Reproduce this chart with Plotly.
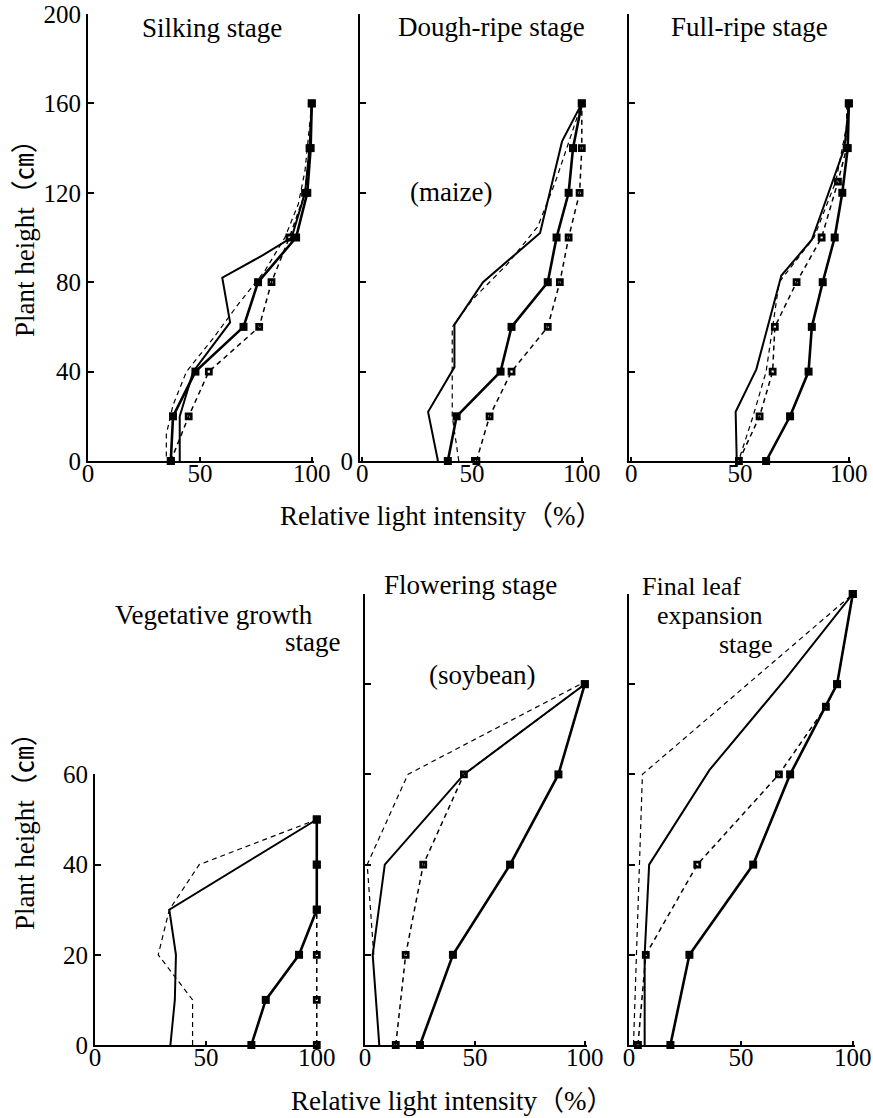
import plotly.graph_objects as go

# ---------------- data (plant height cm, relative light intensity %) ----------------
# Panel 1: maize, silking stage
p1_a_h = [0, 20, 40, 60, 80, 100, 120, 140, 160]
p1_a_v = [37, 38, 48, 69.5, 76, 93, 98, 99.5, 100]
p1_b_h = [0, 20, 40, 62, 82, 92, 100, 120, 140, 160]
p1_b_v = [41, 41, 47, 63.5, 60, 78, 91, 97, 99, 100]
p1_c_h = [0, 20, 40, 60, 80, 100, 120, 140, 160]
p1_c_v = [37, 45, 54, 76.5, 82, 90, 97, 99, 100]
p1_d_h = [2, 12, 25, 40, 55, 70, 85, 100, 115, 130, 160]
p1_d_v = [35, 35, 38, 44, 56, 67, 79, 88, 94, 97, 100]

# Panel 2: maize, dough-ripe stage
p2_a_h = [0, 20, 40, 60, 80, 100, 120, 140, 160]
p2_a_v = [39, 43, 63, 68, 84.5, 88.5, 94, 96, 100]
p2_b_h = [0, 22, 42, 61, 80, 102, 143, 160]
p2_b_v = [34.5, 30, 42, 42, 55, 81, 91, 100]
p2_c_h = [0, 20, 40, 60, 80, 100, 120, 140, 160]
p2_c_v = [52, 58, 68, 84.5, 90, 94, 99, 100, 100]
p2_d_h = [0, 20, 40, 60, 72, 88, 105, 125, 160]
p2_d_v = [44, 41, 41, 41, 50, 66, 80, 88, 100]

# Panel 3: maize, full-ripe stage
p3_a_h = [0, 20, 40, 60, 80, 100, 120, 140, 160]
p3_a_v = [62, 73, 81.5, 83, 88, 93.5, 97, 99.5, 100]
p3_b_h = [0, 22, 41, 83, 99, 140, 160]
p3_b_v = [48.5, 48, 57.5, 69, 83, 98, 100]
p3_c_h = [0, 20, 40, 60, 80, 100, 125, 140, 160]
p3_c_v = [49.5, 59, 65, 66, 76, 87.5, 95, 99, 100]
p3_d_h = [2, 20, 40, 60, 80, 100, 125, 150, 160]
p3_d_v = [50, 56, 62, 65, 68, 84, 94, 99, 99]

# Panel 4: soybean, vegetative growth stage
p4_a_h = [0, 10, 20, 30, 40, 50]
p4_a_v = [70.5, 77, 92, 100, 100, 100]
p4_b_h = [0, 10, 20, 30, 50]
p4_b_v = [34, 36, 36.5, 33.5, 100]
p4_c_h = [0, 10, 20, 30, 40, 50]
p4_c_v = [100, 100, 100, 100, 100, 100]
p4_d_h = [0, 10, 20, 30, 40, 50]
p4_d_v = [44, 44, 28.5, 33.5, 47, 100]

# Panel 5: soybean, flowering stage
p5_a_h = [0, 20, 40, 60, 80]
p5_a_v = [25, 40, 66, 88, 100]
p5_b_h = [0, 20, 40, 60, 80]
p5_b_v = [6.5, 3.5, 9, 45, 100]
p5_c_h = [0, 20, 40, 60, 80]
p5_c_v = [14, 18.5, 26.5, 45, 100]
p5_d_h = [20, 40, 60, 80]
p5_d_v = [4, 1, 19.5, 98]

# Panel 6: soybean, final leaf expansion stage
p6_a_h = [0, 20, 40, 60, 80, 100]
p6_a_v = [18.5, 27, 55.5, 72, 93, 100]
p6_b_h = [0, 20, 40, 61, 81.5, 100]
p6_b_v = [7, 7, 9, 36, 70.5, 100]
p6_c_h = [0, 20, 40, 60, 75, 80, 100]
p6_c_v = [4, 7.5, 30.5, 67, 88, 93, 100]
p6_d_h = [0, 22, 60, 100]
p6_d_v = [2, 3.5, 6, 100]

x_ticks = [0, 50, 100]
maize_y_ticks = [0, 40, 80, 120, 160, 200]
soy_y_ticks = [0, 20, 40, 60, 80, 100]
veg_y_ticks = [0, 20, 40, 60]

panel_titles = ["Silking stage", "Dough-ripe stage", "Full-ripe stage"]
x_title = "Relative light intensity（%）"
y_title = "Plant height（㎝）"

# ---------------- layout helpers ----------------
W, H = 873, 1118
FONT = "Liberation Serif, Noto Sans CJK SC, serif"
FS_TICK = 25
FS_TITLE = 27
FS_AXIS = 27


def fx(p):
    return p / W


def fy(p):
    return 1 - p / H


panels = [
    # (series, x-domain px, x-range, y-domain px, y-range, yticks, yticklabels)
    ([(p1_a_v, p1_a_h), (p1_b_v, p1_b_h), (p1_c_v, p1_c_h), (p1_d_v, p1_d_h)],
     (88, 314), [0, 101], (461, 14), [0, 200], maize_y_ticks, [str(t) for t in maize_y_ticks]),
    ([(p2_a_v, p2_a_h), (p2_b_v, p2_b_h), (p2_c_v, p2_c_h), (p2_d_v, p2_d_h)],
     (360, 584), [-1, 101], (461, 14), [0, 200], maize_y_ticks, ["0"] + [""] * 5),
    ([(p3_a_v, p3_a_h), (p3_b_v, p3_b_h), (p3_c_v, p3_c_h), (p3_d_v, p3_d_h)],
     (629, 851), [-1, 101], (461, 14), [0, 200], maize_y_ticks, [""] * 6),
    ([(p4_a_v, p4_a_h), (p4_b_v, p4_b_h), (p4_c_v, p4_c_h), (p4_d_v, p4_d_h)],
     (95, 319), [0, 101], (1045, 774.4), [0, 60], veg_y_ticks, [str(t) for t in veg_y_ticks]),
    ([(p5_a_v, p5_a_h), (p5_b_v, p5_b_h), (p5_c_v, p5_c_h), (p5_d_v, p5_d_h)],
     (365, 587), [0, 101], (1045, 594), [0, 100], soy_y_ticks, [""] * 6),
    ([(p6_a_v, p6_a_h), (p6_b_v, p6_b_h), (p6_c_v, p6_c_h), (p6_d_v, p6_d_h)],
     (629, 855), [0, 101], (1045, 594), [0, 100], soy_y_ticks, [""] * 6),
]

styles = [
    dict(mode="lines+markers", line=dict(color="black", width=2.6),
         marker=dict(symbol="square", size=8, color="black")),
    dict(mode="lines", line=dict(color="black", width=2.0)),
    dict(mode="lines+markers", line=dict(color="black", width=1.5, dash="5px,4px"),
         marker=dict(symbol="square-open", size=5, color="black", line=dict(width=2.8, color="black"))),
    dict(mode="lines", line=dict(color="black", width=1.2, dash="5px,4px")),
]

fig = go.Figure()
layout = dict(
    width=W, height=H, margin=dict(l=0, r=0, t=0, b=0, autoexpand=False),
    paper_bgcolor="white", plot_bgcolor="white", showlegend=False,
    font=dict(family=FONT, size=FS_TICK, color="black"),
)

for i, (series, xd, xr, yd, yr, yt, ytt) in enumerate(panels, start=1):
    sfx = "" if i == 1 else str(i)
    for (v, h), st in zip(series, styles):
        fig.add_trace(go.Scatter(x=v, y=h, xaxis="x" + sfx, yaxis="y" + sfx,
                                 cliponaxis=False, hoverinfo="skip", **st))
    layout["xaxis" + sfx] = dict(
        domain=[fx(xd[0]), fx(xd[1])], range=xr, anchor="y" + sfx, automargin=False,
        showgrid=False, zeroline=False, showline=True, linecolor="black", linewidth=2,
        tickvals=x_ticks, ticktext=[str(t) for t in x_ticks], ticks="inside", ticklen=4,
        tickwidth=1.5, tickcolor="black", ticklabelstandoff=-11,
        tickfont=dict(family=FONT, size=FS_TICK, color="black"),
    )
    layout["yaxis" + sfx] = dict(
        domain=[fy(yd[0]), fy(yd[1])], range=yr, anchor="x" + sfx, automargin=False,
        showgrid=False, zeroline=False, showline=True, linecolor="black", linewidth=2,
        tickvals=yt, ticktext=ytt, ticks="inside", ticklen=6, tickwidth=1.5, tickcolor="black",
        tickfont=dict(family=FONT, size=FS_TICK, color="black"),
    )

fig.update_layout(**layout)


def note(text, x, y, xanchor="center", size=FS_TITLE, angle=0):
    fig.add_annotation(text=text, x=fx(x), y=fy(y), xref="paper", yref="paper",
                       xanchor=xanchor, yanchor="middle", showarrow=False, textangle=angle,
                       font=dict(family=FONT, size=size, color="black"))


note(panel_titles[0], 212, 28)
note(panel_titles[1], 491, 27)
note(panel_titles[2], 749, 27)
note("(maize)", 451, 192)
note("Vegetative growth", 315, 615, xanchor="right")
note("stage", 342, 642, xanchor="right")
note("Flowering stage", 470, 585)
note("(soybean)", 482, 675)
note("Final leaf", 640, 586, xanchor="left", size=26)
note("expansion", 655, 615, xanchor="left", size=26)
note("stage", 717, 645, xanchor="left", size=26)
note(x_title, 441, 516, size=FS_AXIS)
note(x_title, 452, 1101, size=FS_AXIS)
note(y_title, 25, 232, size=FS_AXIS, angle=-90)
note(y_title, 25, 825, size=FS_AXIS, angle=-90)

fig.write_html("out.html")
